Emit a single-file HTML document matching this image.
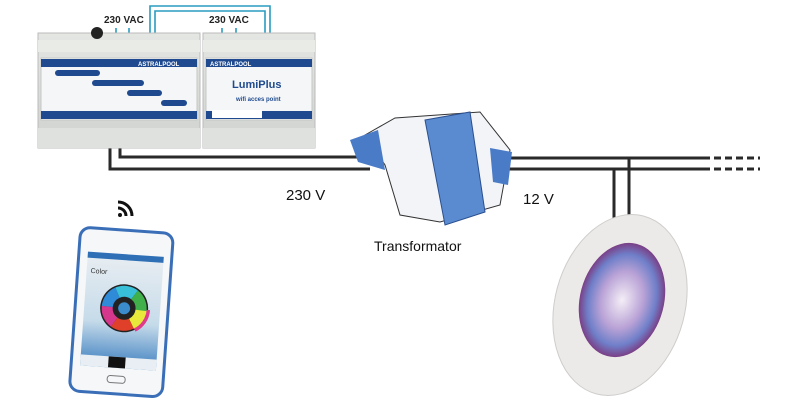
<!DOCTYPE html>
<html><head><style>
html,body{margin:0;padding:0;background:#fff;}
svg{display:block;font-family:"Liberation Sans",sans-serif;}
</style></head><body>
<svg width="795" height="401" viewBox="0 0 795 401" xmlns="http://www.w3.org/2000/svg">
<defs>
<linearGradient id="dev" x1="0" y1="0" x2="0" y2="1"><stop offset="0" stop-color="#e4e6e3"/><stop offset="1" stop-color="#cfd2cf"/></linearGradient>
<radialGradient id="lamp" cx="0.5" cy="0.5" r="0.5"><stop offset="0" stop-color="#f4eef6"/><stop offset="0.5" stop-color="#b9a2d6"/><stop offset="0.8" stop-color="#6f7fc9"/><stop offset="1" stop-color="#7a3f86"/></radialGradient>
<linearGradient id="scr" x1="0" y1="0" x2="0" y2="1"><stop offset="0" stop-color="#e9eef2"/><stop offset="0.6" stop-color="#c6dbea"/><stop offset="1" stop-color="#3d7fc0"/></linearGradient>
</defs>
<!-- wires -->
<g stroke="#2a2a2a" stroke-width="3" fill="none">
<polyline points="110,148 110,169 370,169"/>
<polyline points="120,148 120,157 370,157"/>
<line x1="505" y1="158" x2="710" y2="158"/>
<line x1="505" y1="169" x2="710" y2="169"/>
<line x1="714" y1="158" x2="760" y2="158" stroke-dasharray="7,4"/>
<line x1="714" y1="169" x2="760" y2="169" stroke-dasharray="7,4"/>
<polyline points="614,169 614,222"/>
<polyline points="629,158 629,222"/>
</g>
<!-- blue jumper wires -->
<g stroke="#2a9bc0" stroke-width="1.6" fill="none">
<polyline points="150,45 150,6 270,6 270,45"/>
<polyline points="155,45 155,11 265,11 265,45"/>
<line x1="116" y1="28" x2="116" y2="45"/><line x1="129" y1="28" x2="129" y2="45"/>
<line x1="222" y1="28" x2="222" y2="45"/><line x1="236" y1="28" x2="236" y2="45"/>
</g>
<text x="104" y="23" font-size="10" font-weight="bold" fill="#222">230 VAC</text>
<text x="209" y="23" font-size="10" font-weight="bold" fill="#222">230 VAC</text>
<!-- left device -->
<rect x="38" y="33" width="162" height="115" fill="url(#dev)" stroke="#bbb"/>
<circle cx="97" cy="33" r="6" fill="#222"/>
<rect x="38" y="40" width="162" height="12" fill="#e9ebe7"/>
<rect x="41" y="58" width="156" height="62" fill="#f4f6f7" stroke="#c5c8c5"/>
<rect x="41" y="59" width="156" height="8" fill="#1f4a8f"/>
<rect x="41" y="111" width="156" height="8" fill="#1f4a8f"/>
<text x="138" y="66" font-size="6" fill="#fff" font-weight="bold">ASTRALPOOL</text>
<g fill="#1f4a8f"><rect x="55" y="70" width="45" height="6" rx="3"/><rect x="92" y="80" width="52" height="6" rx="3"/><rect x="127" y="90" width="35" height="6" rx="3"/><rect x="161" y="100" width="26" height="6" rx="3"/></g>
<rect x="38" y="128" width="162" height="20" fill="#dfe1de"/>
<!-- right device -->
<rect x="203" y="33" width="112" height="115" fill="url(#dev)" stroke="#bbb"/>
<rect x="203" y="40" width="112" height="12" fill="#e9ebe7"/>
<rect x="206" y="58" width="106" height="62" fill="#f4f6f7" stroke="#c5c8c5"/>
<rect x="206" y="59" width="106" height="8" fill="#1f4a8f"/>
<rect x="206" y="111" width="106" height="8" fill="#1f4a8f"/>
<text x="210" y="66" font-size="6" fill="#fff" font-weight="bold">ASTRALPOOL</text>
<text x="232" y="88" font-size="11" font-weight="bold" fill="#1f4a8f">LumiPlus</text>
<text x="236" y="101" font-size="6" fill="#1f4a8f" font-weight="bold">wifi acces point</text>
<rect x="212" y="110" width="50" height="8" fill="#fff"/>
<rect x="203" y="128" width="112" height="20" fill="#dfe1de"/>
<!-- transformer -->
<polygon points="365,135 395,118 480,112 510,150 500,205 440,222 400,215 385,165" fill="#f2f4f7" stroke="#333" stroke-width="1"/>
<polygon points="350,140 378,130 385,170 358,162" fill="#4a7bc6"/>
<polygon points="425,120 470,112 485,212 445,225" fill="#5a8bd0" stroke="#2a4f8f"/>
<polygon points="490,148 512,152 508,185 493,182" fill="#4a7bc6"/>
<text x="374" y="251" font-size="14" fill="#111">Transformator</text>
<text x="286" y="200" font-size="15" fill="#111">230 V</text>
<text x="523" y="204" font-size="15" fill="#111">12 V</text>
<!-- lamp -->
<ellipse cx="620" cy="305" rx="65" ry="92" transform="rotate(15 620 305)" fill="#eceae8" stroke="#cfcdcb"/>
<ellipse cx="622" cy="300" rx="42" ry="58" transform="rotate(15 622 300)" fill="url(#lamp)"/>
<!-- wifi -->
<g transform="translate(118,215)" fill="none" stroke="#111" stroke-width="3">
<circle cx="2" cy="0" r="2" fill="#111" stroke="none"/>
<path d="M0,-7 A8,8 0 0 1 8,1"/><path d="M0,-13 A14,14 0 0 1 14,1"/>
</g>
<!-- phone -->
<g transform="rotate(4 120 310)">
<rect x="75" y="230" width="93" height="164" rx="10" fill="#f5f7f9" stroke="#3a6fb8" stroke-width="3"/>
<rect x="84" y="254" width="76" height="114" fill="url(#scr)"/>
<rect x="84" y="254" width="76" height="6" fill="#2f6fb5"/>
<text x="88" y="275" font-size="7" fill="#333">Color</text>
<circle cx="124" cy="308" r="24" fill="#222"/>
<circle cx="124" cy="308" r="21" fill="none" stroke="#e03a8a" stroke-width="10" stroke-dasharray="22 200"/>
<circle cx="124" cy="308" r="16" fill="none" stroke="url(#lamp)" stroke-width="0"/>
<g fill="none" stroke-width="11">
<circle cx="124" cy="308" r="17" stroke="#e8e83a" stroke-dasharray="18 89" stroke-dashoffset="0"/>
<circle cx="124" cy="308" r="17" stroke="#e0402a" stroke-dasharray="18 89" stroke-dashoffset="-18"/>
<circle cx="124" cy="308" r="17" stroke="#d5378c" stroke-dasharray="18 89" stroke-dashoffset="-36"/>
<circle cx="124" cy="308" r="17" stroke="#2f8ad8" stroke-dasharray="18 89" stroke-dashoffset="-54"/>
<circle cx="124" cy="308" r="17" stroke="#37c0d8" stroke-dasharray="18 89" stroke-dashoffset="-72"/>
<circle cx="124" cy="308" r="17" stroke="#3fb04a" stroke-dasharray="18 89" stroke-dashoffset="-90"/>
</g>
<circle cx="124" cy="308" r="9" fill="#222"/><circle cx="124" cy="308" r="6" fill="#3a8ccc"/>
<rect x="84" y="357" width="76" height="11" fill="#e8eef3"/>
<rect x="112" y="357" width="17" height="11" fill="#111"/>
<rect x="112" y="376" width="18" height="7" rx="3" fill="none" stroke="#777"/>
</g>
</svg>
</body></html>
